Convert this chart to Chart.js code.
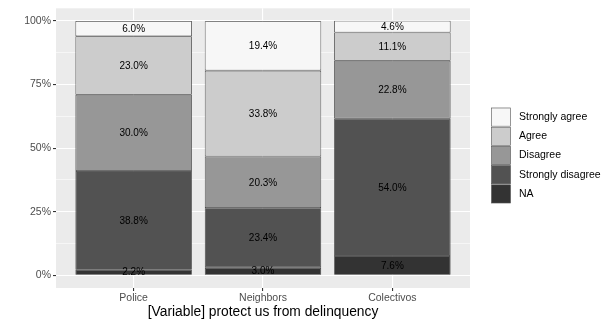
<!DOCTYPE html>
<html>
<head>
<meta charset="utf-8">
<script src="https://cdn.jsdelivr.net/npm/chart.js@4.4.1/dist/chart.umd.min.js"></script>
<style>
  html, body { margin: 0; padding: 0; background: #fff; }
  canvas { display: block; }
</style>
</head>
<body>
<canvas id="chart" width="614" height="323"></canvas>
<script>
// data
const categories = ['Police', 'Neighbors', 'Colectivos'];
const responses = ['NA', 'Strongly disagree', 'Disagree', 'Agree', 'Strongly agree'];
const naPct = [2.2, 3.0, 7.6];
const stronglyDisagreePct = [38.8, 23.4, 54.0];
const disagreePct = [30.0, 20.3, 22.8];
const agreePct = [23.0, 33.8, 11.1];
const stronglyAgreePct = [6.0, 19.4, 4.6];
const yTicks = [0, 25, 50, 75, 100];
const xLabel = '[Variable] protect us from delinquency';

const seriesValues = [naPct, stronglyDisagreePct, disagreePct, agreePct, stronglyAgreePct];
const fills = ['#333333', '#525252', '#979797', '#cccccc', '#f7f7f7'];
const FONT = '"Liberation Sans", Arial, Helvetica, sans-serif';

// minor gridlines sit halfway between the major ticks (ggplot style)
const yGrid = [];
yTicks.forEach((t, i) => {
  yGrid.push(t);
  if (i < yTicks.length - 1) yGrid.push((t + yTicks[i + 1]) / 2);
});
const isMajor = v => yTicks.includes(v);

const datasets = seriesValues.map((vals, i) => ({
  label: responses[i],
  data: vals.map((v, j) => ({ x: j + 1, y: v })),
  backgroundColor: fills[i],
  borderColor: '#333',
  borderWidth: 0.8,
  borderSkipped: false,
  barPercentage: 1,
  categoryPercentage: 0.9
}));

// panel background, labels inside the segments and the legend on the right
const ggPlugin = {
  id: 'ggExtras',
  beforeDraw(chart) {
    const { ctx, chartArea: a } = chart;
    ctx.save();
    ctx.fillStyle = '#ebebeb';
    ctx.fillRect(a.left, a.top, a.right - a.left, a.bottom - a.top);
    ctx.restore();
  },
  afterDatasetsDraw(chart) {
    const { ctx } = chart;
    ctx.save();
    ctx.font = '10px ' + FONT;
    ctx.textAlign = 'center';
    ctx.textBaseline = 'middle';
    ctx.fillStyle = '#000';
    chart.data.datasets.forEach((ds, i) => {
      const meta = chart.getDatasetMeta(i);
      meta.data.forEach((bar, j) => {
        const v = seriesValues[i][j];
        ctx.fillText(v.toFixed(1) + '%', bar.x, (bar.y + bar.base) / 2 + 0.5);
      });
    });
    ctx.restore();
  },
  afterDraw(chart) {
    const { ctx } = chart;
    const keyX = 491, keyTop = 107.5, keyW = 20, keyH = 19.2;
    ctx.save();
    const order = responses.map((r, i) => i).reverse();
    order.forEach((idx, k) => {
      const y = keyTop + k * keyH;
      ctx.fillStyle = '#f2f2f2';
      ctx.fillRect(keyX, y, keyW, keyH);
      ctx.fillStyle = fills[idx];
      ctx.fillRect(keyX + 0.5, y + 0.5, keyW - 1, keyH - 1);
      ctx.strokeStyle = '#555';
      ctx.lineWidth = 0.6;
      ctx.strokeRect(keyX + 0.5, y + 0.5, keyW - 1, keyH - 1);
      ctx.fillStyle = '#000';
      ctx.font = '10.5px ' + FONT;
      ctx.textAlign = 'left';
      ctx.textBaseline = 'middle';
      ctx.fillText(responses[idx], 519, y + keyH / 2);
    });
    ctx.restore();
  }
};

new Chart(document.getElementById('chart'), {
  type: 'bar',
  data: { datasets: datasets },
  options: {
    responsive: false,
    animation: false,
    devicePixelRatio: 1,
    layout: { padding: { top: 6, right: 144, bottom: 0, left: 0 } },
    plugins: {
      legend: { display: false },
      tooltip: { enabled: false }
    },
    scales: {
      x: {
        type: 'linear',
        min: 0.4,
        max: 3.6,
        offset: false,
        stacked: true,
        afterBuildTicks: s => { s.ticks = categories.map((c, i) => ({ value: i + 1 })); },
        afterFit: s => { s.height = 35; },
        border: { display: false },
        grid: { offset: false, color: '#fff', lineWidth: 1.1, tickColor: '#333', tickLength: 3 },
        ticks: {
          autoSkip: false,
          maxRotation: 0,
          padding: 1,
          color: '#4d4d4d',
          font: { family: FONT, size: 10.5 },
          callback: v => categories[v - 1]
        },
        title: {
          display: true,
          text: xLabel,
          color: '#000',
          font: { family: FONT, size: 13.8 },
          padding: { top: 0, bottom: 3 }
        }
      },
      y: {
        min: -5,
        max: 105,
        stacked: true,
        afterBuildTicks: s => { s.ticks = yGrid.map(v => ({ value: v })); },
        afterFit: s => { s.width = 56; },
        border: { display: false },
        grid: {
          color: '#fff',
          lineWidth: c => (c.tick && isMajor(c.tick.value)) ? 1.1 : 0.55,
          tickColor: c => (c.tick && isMajor(c.tick.value)) ? '#333' : 'rgba(0,0,0,0)',
          tickLength: 3
        },
        ticks: {
          padding: 2,
          color: '#4d4d4d',
          font: { family: FONT, size: 10.5 },
          callback: v => isMajor(v) ? v + '%' : ''
        }
      }
    }
  },
  plugins: [ggPlugin]
});
</script>
</body>
</html>
